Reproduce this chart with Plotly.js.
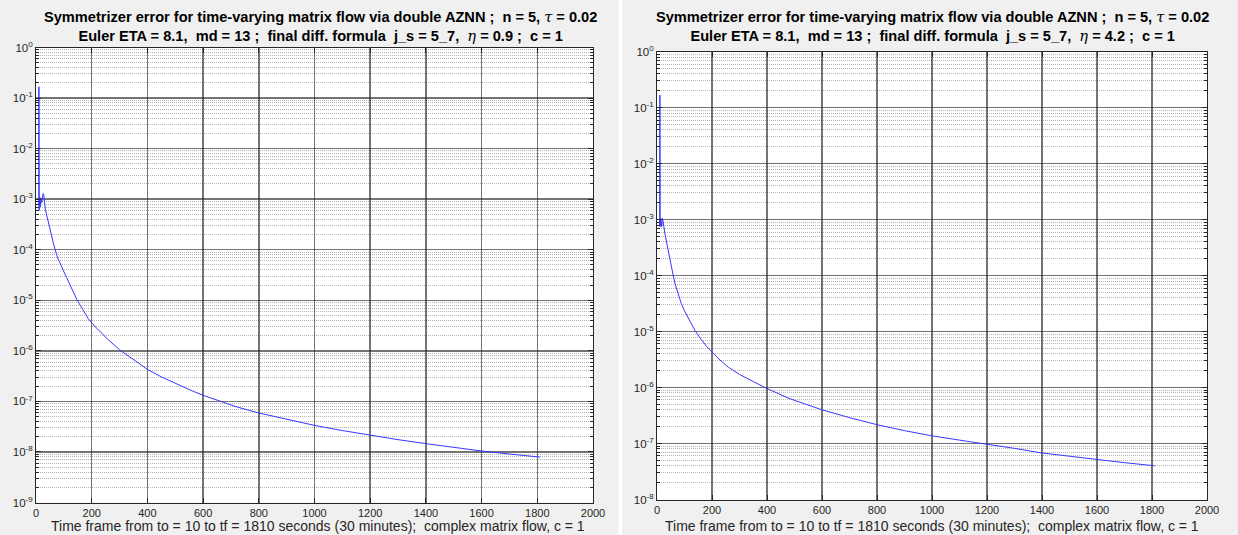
<!DOCTYPE html>
<html>
<head>
<meta charset="utf-8">
<script src="https://cdn.plot.ly/plotly-3.0.1.min.js"></script>
<style>
  html, body { margin: 0; padding: 0; background: #f0f0f0; }
  #chart { width: 1238px; height: 535px; }
</style>
</head>
<body>
<div id="chart"></div>
<script>
// ---- Data (left panel: eta = 0.9) ----
const timeLeft = [10, 10.4, 10.8, 11.5, 12.5, 13.5, 14.5, 15.5, 16.5, 18, 20, 22, 24, 26, 28, 30, 33, 37, 41, 45, 50, 57, 63, 68, 74, 80, 88, 98, 110, 122, 134, 148, 165, 188, 210, 230, 260, 300, 350, 400, 450, 500, 560, 600, 643, 720, 800, 900, 1000, 1100, 1205, 1300, 1404, 1500, 1602, 1700, 1810];
const errLeft = [7.5e-4, 0.167, 1.0e-3, 6.0e-4, 9.5e-4, 1.1e-3, 8.0e-4, 7.0e-4, 9.0e-4, 1.05e-3, 8.5e-4, 9.0e-4, 1.15e-3, 1.3e-3, 1.2e-3, 9e-4, 6.5e-4, 5.2e-4, 4.3e-4, 3.6e-4, 2.7e-4, 1.8e-4, 1.3e-4, 1.0e-4, 8e-5, 6.5e-5, 5e-5, 3.9e-5, 2.8e-5, 2.0e-5, 1.45e-5, 1.0e-5, 7e-6, 4.3e-6, 3.1e-6, 2.4e-6, 1.65e-6, 1.05e-6, 6.6e-7, 4.3e-7, 3.05e-7, 2.25e-7, 1.62e-7, 1.32e-7, 1.08e-7, 7.8e-8, 5.9e-8, 4.4e-8, 3.35e-8, 2.65e-8, 2.1e-8, 1.75e-8, 1.45e-8, 1.23e-8, 1.04e-8, 9.1e-9, 7.9e-9];

// ---- Right panel: eta = 4.2 ----
const timeRight = [10, 10.4, 10.8, 11.5, 12.5, 14, 15.5, 17, 18.5, 20, 22, 25, 29, 35, 41, 47, 53, 59, 67, 77, 88, 100, 117, 138, 160, 181, 205, 229, 260, 300, 350, 400, 480, 540, 600, 700, 800, 900, 997, 1100, 1197, 1300, 1397, 1500, 1597, 1700, 1810];
const errRight = [8e-4, 0.168, 1.0e-3, 7.5e-4, 9.5e-4, 1.05e-3, 9e-4, 7.5e-4, 8.5e-4, 1.05e-3, 9.5e-4, 7.5e-4, 5.5e-4, 3.8e-4, 2.6e-4, 1.8e-4, 1.3e-4, 1.0e-4, 6.8e-5, 4.5e-5, 3.2e-5, 2.35e-5, 1.6e-5, 1.05e-5, 7.3e-6, 5.4e-6, 4.1e-6, 3.1e-6, 2.3e-6, 1.72e-6, 1.28e-6, 9.6e-7, 6.4e-7, 5.0e-7, 4.0e-7, 2.9e-7, 2.17e-7, 1.7e-7, 1.38e-7, 1.15e-7, 9.8e-8, 8.2e-8, 6.8e-8, 5.9e-8, 5.1e-8, 4.55e-8, 4.0e-8];

// ---- Tick labels ----
const xTickVals = [0, 200, 400, 600, 800, 1000, 1200, 1400, 1600, 1800, 2000];
const yExpLeft = [-9, -8, -7, -6, -5, -4, -3, -2, -1, 0];
const yExpRight = [-8, -7, -6, -5, -4, -3, -2, -1, 0];

const greek = s => "<span style='font-family:DejaVu Serif;font-style:italic;font-weight:normal'>" + s + "</span>";
const titleLine1 = "Symmetrizer error for time-varying matrix flow via double AZNN ;  n = 5, " + greek('τ') + " = 0.02";
const titleLeft2 = "Euler ETA = 8.1,  md = 13 ;  final diff. formula  j_s = 5_7,  " + greek('η') + " = 0.9 ;  c = 1";
const titleRight2 = "Euler ETA = 8.1,  md = 13 ;  final diff. formula  j_s = 5_7,  " + greek('η') + " = 4.2 ;  c = 1";
const xLabel = "Time frame from to = 10 to tf = 1810 seconds (30 minutes);  complex matrix flow, c = 1";

// ---- Layout helpers ----
const W = 1238, H = 535;
const px = v => v / W;
const py = v => 1 - v / H;

function minorVals(exps) {
  const out = [];
  for (let i = 0; i < exps.length - 1; i++) {
    for (let d = 2; d <= 9; d++) out.push(d * Math.pow(10, exps[i]));
  }
  return out;
}

const fontFam = "Liberation Sans, Arial, Helvetica, sans-serif";
const lineColor = 'rgb(55,55,255)';
const majorGrid = 'rgba(30,30,30,0.62)';

const xCommon = {
  range: [0, 2000], tickvals: xTickVals, ticktext: xTickVals.map(String), tickmode: 'array',
  ticks: 'inside', ticklen: 5, tickcolor: '#262626', tickwidth: 1,
  showgrid: true, gridcolor: majorGrid, gridwidth: 1.5,
  showline: true, linecolor: '#262626', linewidth: 1, mirror: 'ticks',
  zeroline: false, tickfont: { family: fontFam, size: 11, color: '#262626' },
  fixedrange: true
};

function yAxis(exps, domain) {
  return {
    type: 'log', domain: domain,
    range: [exps[0], exps[exps.length - 1]],
    tickmode: 'array',
    tickvals: exps.map(e => Math.pow(10, e)),
    ticktext: exps.map(e => '10<sup>' + e + '</sup>'),
    ticks: 'inside', ticklen: 5, tickcolor: '#262626',
    showgrid: true, gridcolor: majorGrid, gridwidth: 1.5,
    minor: {
      tickmode: 'array', tickvals: minorVals(exps),
      ticks: 'inside', ticklen: 3, tickcolor: '#262626',
      showgrid: true, gridcolor: 'rgba(120,120,120,0.55)', gridwidth: 1, griddash: '1px,1px'
    },
    showline: true, linecolor: '#262626', linewidth: 1, mirror: 'ticks',
    zeroline: false, tickfont: { family: fontFam, size: 11.5, color: '#262626' },
    fixedrange: true
  };
}

const traces = [
  { x: timeLeft, y: errLeft, type: 'scatter', mode: 'lines', xaxis: 'x', yaxis: 'y',
    line: { color: lineColor, width: 1 }, hoverinfo: 'skip' },
  { x: timeRight, y: errRight, type: 'scatter', mode: 'lines', xaxis: 'x2', yaxis: 'y2',
    line: { color: lineColor, width: 1 }, hoverinfo: 'skip' }
];

const leftCx = (36 + 593) / 2 + 6, rightCx = (657 + 1207) / 2;

const layout = {
  width: W, height: H,
  margin: { l: 0, r: 0, t: 0, b: 0, pad: 0 },
  paper_bgcolor: '#f0f0f0', plot_bgcolor: '#ffffff',
  showlegend: false,
  xaxis: Object.assign({}, xCommon, { domain: [px(36), px(593)], anchor: 'y' }),
  yaxis: Object.assign(yAxis(yExpLeft, [py(502.5), py(47.5)]), { anchor: 'x' }),
  xaxis2: Object.assign({}, xCommon, { domain: [px(657), px(1207)], anchor: 'y2' }),
  yaxis2: Object.assign(yAxis(yExpRight, [py(499.5), py(51.7)]), { anchor: 'x2' }),
  shapes: [
    { type: 'rect', xref: 'paper', yref: 'paper', x0: px(618.5), x1: px(622), y0: 0, y1: 1,
      fillcolor: '#ffffff', line: { width: 0 }, layer: 'below' }
  ],
  annotations: [
    { text: '<b>' + titleLine1 + '<br>' + titleLeft2 + '</b>', xref: 'paper', yref: 'paper',
      x: px(leftCx), y: py(26), xanchor: 'center', yanchor: 'middle', showarrow: false,
      font: { family: fontFam, size: 14.6, color: '#000' } },
    { text: '<b>' + titleLine1 + '<br>' + titleRight2 + '</b>', xref: 'paper', yref: 'paper',
      x: px(rightCx), y: py(26), xanchor: 'center', yanchor: 'middle', showarrow: false,
      font: { family: fontFam, size: 14.6, color: '#000' } },
    { text: xLabel, xref: 'paper', yref: 'paper', x: px(leftCx - 3), y: py(526), xanchor: 'center',
      yanchor: 'middle', showarrow: false, font: { family: fontFam, size: 14, color: '#262626' } },
    { text: xLabel, xref: 'paper', yref: 'paper', x: px(rightCx), y: py(526), xanchor: 'center',
      yanchor: 'middle', showarrow: false, font: { family: fontFam, size: 14, color: '#262626' } }
  ]
};

Plotly.newPlot('chart', traces, layout, { staticPlot: true, displayModeBar: false });
</script>
</body>
</html>
